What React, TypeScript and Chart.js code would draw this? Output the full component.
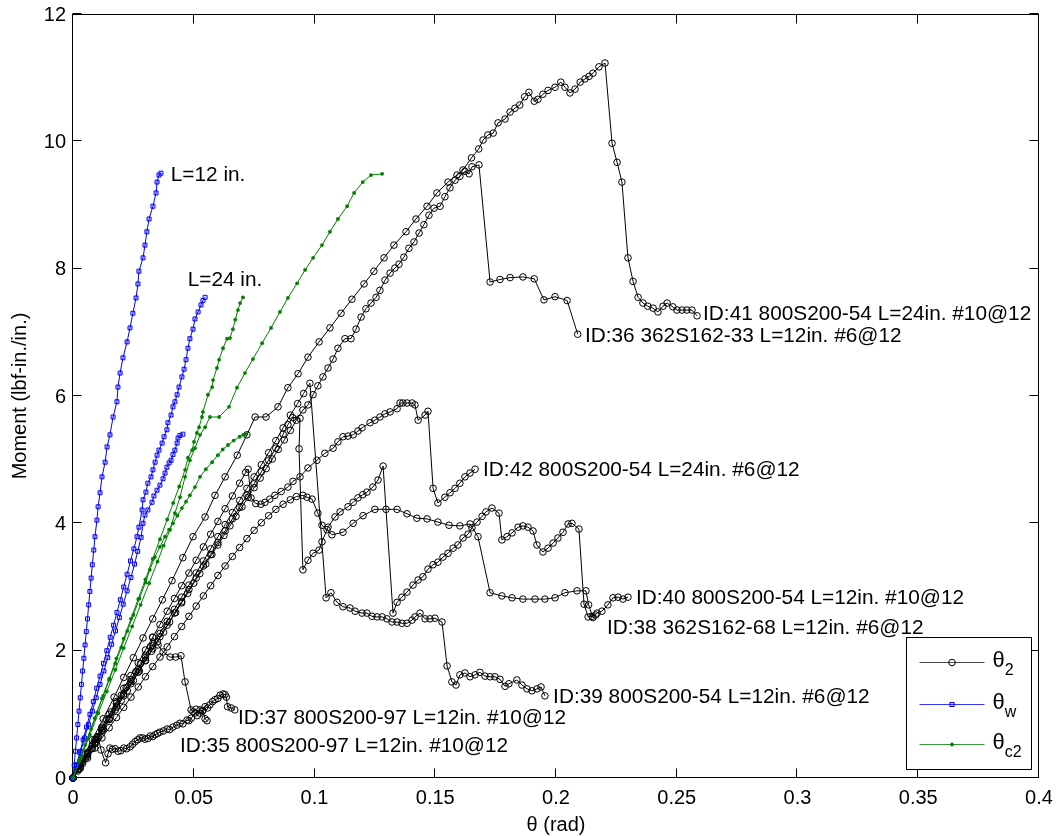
import React, { useEffect, useRef } from 'react';
import { Chart, registerables } from 'chart.js';

Chart.register(...registerables);

type Pt = [number, number];

// ---------- axes ----------
const xTickValues = [0, 0.05, 0.1, 0.15, 0.2, 0.25, 0.3, 0.35, 0.4];
const xTickLabels = ['0', '0.05', '0.1', '0.15', '0.2', '0.25', '0.3', '0.35', '0.4'];
const yTickValues = [0, 2, 4, 6, 8, 10, 12];
const yTickLabels = ['0', '2', '4', '6', '8', '10', '12'];
const xTitle = 'θ (rad)';
const yTitle = 'Moment (lbf-in./in.)';

// ---------- θ2 curves (black) ----------
const id41: Pt[] = [
  [0, 0], [0.004, 0.3], [0.008, 0.6], [0.0125, 0.93], [0.017, 1.27], [0.021, 1.58], [0.025, 1.89], [0.029, 2.2],
  [0.033, 2.5], [0.037, 2.8], [0.041, 3.1], [0.0455, 3.46], [0.0497, 3.79], [0.0547, 4.1], [0.0588, 4.44],
  [0.063, 4.73], [0.068, 5.07], [0.072, 5.39], [0.0754, 5.67], [0.0799, 5.67], [0.0849, 5.83], [0.089, 6.13],
  [0.0932, 6.35], [0.0973, 6.61], [0.1019, 6.85], [0.1064, 7.07], [0.111, 7.3], [0.1155, 7.52], [0.1205, 7.76],
  [0.1246, 7.96], [0.1288, 8.17], [0.1329, 8.37], [0.1379, 8.58], [0.142, 8.78], [0.1466, 8.98], [0.1507, 9.19],
  [0.1553, 9.36], [0.159, 9.47], [0.1615, 9.55], [0.165, 9.74], [0.168, 9.88], [0.1698, 10.02], [0.1718, 10.1],
  [0.174, 10.13], [0.176, 10.29], [0.1789, 10.35], [0.181, 10.46], [0.183, 10.52], [0.185, 10.57], [0.187, 10.7],
  [0.1888, 10.77], [0.191, 10.63], [0.1925, 10.66], [0.1946, 10.74], [0.1967, 10.8], [0.1996, 10.85], [0.202, 10.93],
  [0.2037, 10.85], [0.2058, 10.76], [0.2079, 10.82], [0.21, 10.93], [0.212, 10.98], [0.2137, 11.02], [0.2153, 11.07],
  [0.2178, 11.17], [0.2203, 11.23], [0.2232, 9.97], [0.2253, 9.67], [0.2273, 9.36], [0.2298, 8.17], [0.2319, 7.8],
  [0.234, 7.55], [0.236, 7.46], [0.238, 7.41], [0.2402, 7.38], [0.2422, 7.32], [0.2443, 7.41], [0.246, 7.46],
  [0.2484, 7.4], [0.2501, 7.35], [0.2522, 7.35], [0.2542, 7.35], [0.2563, 7.35], [0.2584, 7.26],
];

const id36: Pt[] = [
  [0, 0], [0.0025, 0.14], [0.005, 0.3], [0.0075, 0.46], [0.01, 0.61], [0.0125, 0.77], [0.015, 0.92], [0.0175, 1.07],
  [0.02, 1.22], [0.0225, 1.37], [0.025, 1.53], [0.0275, 1.68], [0.03, 1.84], [0.0325, 1.99], [0.035, 2.14],
  [0.0375, 2.29], [0.04, 2.45], [0.0425, 2.6], [0.045, 2.75], [0.0475, 2.9], [0.05, 3.06], [0.0525, 3.21],
  [0.055, 3.36], [0.0575, 3.51], [0.06, 3.66], [0.0625, 3.81], [0.065, 3.96], [0.0675, 4.11], [0.07, 4.26],
  [0.0725, 4.41], [0.075, 4.56], [0.0775, 4.71], [0.08, 4.86], [0.0825, 5.01], [0.085, 5.16], [0.0875, 5.31],
  [0.09, 5.46], [0.0925, 5.62], [0.0952, 5.78], [0.0973, 5.86], [0.0994, 6.02], [0.1014, 6.16], [0.1035, 6.3],
  [0.1056, 6.44], [0.1077, 6.58], [0.1097, 6.75], [0.1126, 6.9], [0.1151, 6.9], [0.1172, 7.05], [0.1193, 7.24],
  [0.1213, 7.37], [0.1234, 7.46], [0.1255, 7.55], [0.1271, 7.66], [0.1292, 7.82], [0.1313, 7.93], [0.1333, 8.01],
  [0.135, 8.07], [0.137, 8.18], [0.1391, 8.32], [0.1412, 8.42], [0.1433, 8.56], [0.1453, 8.69], [0.1474, 8.84],
  [0.1495, 8.95], [0.152, 8.98], [0.154, 9.13], [0.1561, 9.27], [0.1582, 9.39], [0.1602, 9.45], [0.1623, 9.53],
  [0.164, 9.49], [0.1652, 9.6], [0.1681, 9.63], [0.1727, 7.79], [0.1768, 7.83], [0.181, 7.86], [0.1863, 7.87],
  [0.191, 7.84], [0.195, 7.51], [0.1996, 7.56], [0.2046, 7.5], [0.209, 6.97],
];

const id42: Pt[] = [
  [0, 0], [0.003, 0.2], [0.006, 0.4], [0.009, 0.6], [0.012, 0.8], [0.015, 1.0], [0.018, 1.2], [0.021, 1.41],
  [0.024, 1.61], [0.027, 1.81], [0.03, 2.01], [0.033, 2.21], [0.036, 2.41], [0.039, 2.62], [0.042, 2.82],
  [0.045, 3.02], [0.048, 3.22], [0.051, 3.42], [0.054, 3.63], [0.057, 3.83], [0.06, 4.03], [0.063, 4.23],
  [0.066, 4.43], [0.069, 4.63], [0.0715, 4.8], [0.0725, 4.85], [0.0737, 4.4], [0.0757, 4.31], [0.0778, 4.3],
  [0.0795, 4.33], [0.0815, 4.38], [0.0836, 4.44], [0.0862, 4.5], [0.089, 4.57], [0.0911, 4.66], [0.094, 4.73],
  [0.0973, 4.87], [0.101, 4.99], [0.1043, 5.1], [0.1077, 5.18], [0.1097, 5.28], [0.1118, 5.36], [0.1139, 5.37],
  [0.116, 5.39], [0.118, 5.45], [0.1197, 5.5], [0.123, 5.58], [0.125, 5.62], [0.1271, 5.67], [0.1292, 5.72],
  [0.1313, 5.75], [0.1342, 5.8], [0.1354, 5.89], [0.1366, 5.89], [0.1383, 5.89], [0.1404, 5.89], [0.1416, 5.86],
  [0.1429, 5.62], [0.1458, 5.7], [0.147, 5.76], [0.1491, 4.55], [0.1511, 4.32], [0.154, 4.41], [0.1561, 4.48],
  [0.1582, 4.55], [0.1602, 4.63], [0.1623, 4.73], [0.1644, 4.79], [0.1665, 4.85],
];

const id40: Pt[] = [
  [0, 0], [0.003, 0.18], [0.006, 0.37], [0.009, 0.55], [0.012, 0.74], [0.015, 0.92], [0.018, 1.11], [0.021, 1.29],
  [0.024, 1.48], [0.027, 1.66], [0.03, 1.85], [0.033, 2.03], [0.036, 2.22], [0.039, 2.4], [0.042, 2.59],
  [0.045, 2.77], [0.048, 2.96], [0.051, 3.14], [0.054, 3.33], [0.057, 3.51], [0.06, 3.7], [0.063, 3.88],
  [0.066, 4.07], [0.069, 4.25], [0.072, 4.44], [0.075, 4.62], [0.078, 4.81], [0.081, 4.99], [0.084, 5.18],
  [0.087, 5.4], [0.089, 5.55], [0.091, 5.66], [0.094, 5.65], [0.0936, 5.17], [0.0952, 3.27], [0.0973, 3.42],
  [0.0994, 3.53], [0.1019, 3.58], [0.1031, 3.71], [0.1056, 3.94], [0.1085, 4.1], [0.1106, 4.18], [0.1139, 4.26],
  [0.116, 4.33], [0.118, 4.4], [0.12, 4.45], [0.1217, 4.49], [0.1242, 4.57], [0.1263, 4.68], [0.1284, 4.9],
  [0.1325, 2.59], [0.1342, 2.76], [0.1362, 2.84], [0.1383, 2.92], [0.1408, 3.03], [0.1429, 3.11], [0.1449, 3.16],
  [0.147, 3.28], [0.1491, 3.35], [0.1511, 3.39], [0.1532, 3.47], [0.1553, 3.53], [0.1574, 3.61], [0.1594, 3.66],
  [0.1615, 3.77], [0.1636, 3.83], [0.1652, 3.93], [0.1673, 4.02], [0.1694, 4.11], [0.171, 4.18], [0.1735, 4.24],
  [0.1764, 4.16], [0.1776, 3.74], [0.1797, 3.79], [0.1818, 3.85], [0.1843, 3.94], [0.1863, 3.96], [0.1884, 3.94],
  [0.1905, 3.88], [0.1921, 3.66], [0.1946, 3.55], [0.1967, 3.61], [0.1988, 3.69], [0.2008, 3.77], [0.2029, 3.86],
  [0.205, 3.99], [0.2066, 4.0], [0.2095, 3.91], [0.2116, 2.73], [0.2133, 2.53], [0.2149, 2.54], [0.217, 2.59],
  [0.219, 2.62], [0.2215, 2.72], [0.2236, 2.83], [0.2257, 2.84], [0.2277, 2.81], [0.2298, 2.84],
];

const id38: Pt[] = [
  [0, 0], [0.003, 0.15], [0.006, 0.31], [0.009, 0.47], [0.012, 0.63], [0.015, 0.79], [0.018, 0.95], [0.021, 1.11],
  [0.024, 1.27], [0.027, 1.43], [0.03, 1.59], [0.033, 1.75], [0.036, 1.9], [0.039, 2.06], [0.042, 2.22],
  [0.045, 2.38], [0.048, 2.54], [0.051, 2.7], [0.054, 2.86], [0.057, 3.02], [0.06, 3.18], [0.063, 3.33],
  [0.066, 3.48], [0.069, 3.62], [0.072, 3.76], [0.075, 3.89], [0.078, 4.01], [0.081, 4.12], [0.084, 4.22],
  [0.087, 4.3], [0.09, 4.37], [0.0925, 4.42], [0.0952, 4.44], [0.0969, 4.41], [0.099, 4.38], [0.1014, 4.16],
  [0.1031, 3.97], [0.1052, 3.9], [0.1072, 3.82], [0.1118, 3.86], [0.116, 4.0], [0.1201, 4.12], [0.125, 4.22],
  [0.1296, 4.22], [0.1342, 4.22], [0.1383, 4.15], [0.1424, 4.08], [0.1466, 4.07], [0.1511, 4.02], [0.1557, 3.97],
  [0.1602, 3.96], [0.1644, 3.99], [0.1677, 3.79], [0.1727, 2.91], [0.1776, 2.86], [0.1818, 2.83], [0.1863, 2.81],
  [0.1913, 2.81], [0.1954, 2.81], [0.1996, 2.83], [0.2037, 2.91], [0.2087, 2.94], [0.2124, 2.94], [0.2135, 2.72],
  [0.2153, 2.52], [0.2165, 2.56],
];

const id39: Pt[] = [
  [0, 0], [0.003, 0.18], [0.006, 0.37], [0.009, 0.56], [0.012, 0.75], [0.015, 0.94], [0.018, 1.13], [0.021, 1.32],
  [0.024, 1.51], [0.027, 1.7], [0.03, 1.89], [0.033, 2.08], [0.036, 2.27], [0.039, 2.46], [0.042, 2.65],
  [0.045, 2.84], [0.048, 3.03], [0.051, 3.22], [0.054, 3.41], [0.057, 3.6], [0.06, 3.79], [0.063, 3.98],
  [0.066, 4.17], [0.069, 4.36], [0.072, 4.55], [0.075, 4.73], [0.078, 4.92], [0.081, 5.11], [0.084, 5.3],
  [0.087, 5.5], [0.09, 5.7], [0.093, 5.88], [0.0955, 6.04], [0.0981, 6.2], [0.1048, 2.83], [0.1068, 2.91],
  [0.1093, 2.76], [0.1118, 2.69], [0.1147, 2.67], [0.1168, 2.62], [0.1197, 2.59], [0.1217, 2.59], [0.1238, 2.54],
  [0.1259, 2.53], [0.128, 2.53], [0.13, 2.5], [0.1321, 2.45], [0.1342, 2.45], [0.1362, 2.43], [0.1383, 2.43],
  [0.1404, 2.48], [0.1416, 2.53], [0.1437, 2.59], [0.1458, 2.5], [0.1478, 2.5], [0.1499, 2.51], [0.1528, 2.45],
  [0.1549, 1.76], [0.1569, 1.51], [0.1586, 1.46], [0.1602, 1.62], [0.1623, 1.65], [0.1644, 1.59], [0.1665, 1.62],
  [0.1685, 1.66], [0.1706, 1.6], [0.1727, 1.59], [0.1747, 1.59], [0.1768, 1.55], [0.1789, 1.44], [0.1805, 1.48],
  [0.1838, 1.54], [0.1859, 1.46], [0.188, 1.4], [0.19, 1.37], [0.1921, 1.4], [0.1938, 1.43], [0.1954, 1.29],
];

const id37: Pt[] = [
  [0, 0], [0.002, 0.13], [0.004, 0.26], [0.006, 0.39], [0.008, 0.52], [0.01, 0.65], [0.012, 0.78], [0.014, 0.91],
  [0.016, 1.04], [0.018, 1.17], [0.02, 1.3], [0.022, 1.42], [0.024, 1.55], [0.026, 1.67], [0.028, 1.8],
  [0.03, 1.93], [0.032, 2.06], [0.033, 2.21], [0.0352, 2.09], [0.0373, 1.98], [0.0402, 1.9], [0.0425, 1.9],
  [0.0447, 1.92], [0.0464, 1.51], [0.0489, 1.07], [0.0497, 1.04], [0.051, 1.08], [0.0525, 1.02], [0.0538, 1.06],
  [0.0547, 0.93], [0.0555, 0.9],
];

const id35: Pt[] = [
  [0, 0], [0.002, 0.11], [0.004, 0.23], [0.006, 0.34], [0.008, 0.46], [0.0095, 0.55], [0.0105, 0.64],
  [0.0116, 0.44], [0.0135, 0.24], [0.0145, 0.38], [0.0153, 0.47], [0.0163, 0.45], [0.0175, 0.46], [0.0187, 0.42],
  [0.0198, 0.43], [0.021, 0.47], [0.0222, 0.46], [0.0236, 0.49], [0.0247, 0.53], [0.0257, 0.57], [0.0268, 0.6],
  [0.0277, 0.63], [0.0288, 0.63], [0.0298, 0.61], [0.031, 0.62], [0.032, 0.66], [0.033, 0.65], [0.034, 0.68],
  [0.035, 0.7], [0.036, 0.72], [0.0375, 0.74], [0.039, 0.77], [0.04, 0.76], [0.0414, 0.8], [0.043, 0.83],
  [0.0443, 0.86], [0.0455, 0.85], [0.0472, 0.91], [0.048, 0.9], [0.049, 0.94], [0.0505, 1.02], [0.0515, 0.98],
  [0.0526, 1.07], [0.0535, 1.05], [0.0547, 1.12], [0.0557, 1.1], [0.0567, 1.15], [0.0578, 1.2], [0.0588, 1.23],
  [0.06, 1.25], [0.0609, 1.3], [0.0621, 1.32], [0.063, 1.31], [0.0635, 1.27], [0.064, 1.12], [0.0655, 1.1],
  [0.067, 1.07],
];

// ---------- θw curves (blue) ----------
const wL12: Pt[] = [
  [0, 0], [0.0005, 0.2], [0.001, 0.42], [0.0015, 0.63], [0.002, 0.84], [0.0025, 1.05], [0.003, 1.26],
  [0.0035, 1.47], [0.004, 1.68], [0.0045, 1.88], [0.005, 2.09], [0.0055, 2.3], [0.006, 2.5], [0.0065, 2.72],
  [0.007, 2.93], [0.0075, 3.14], [0.008, 3.35], [0.0086, 3.58], [0.0091, 3.79], [0.0099, 4.05], [0.0104, 4.26],
  [0.0112, 4.48], [0.012, 4.73], [0.0133, 4.96], [0.0141, 5.2], [0.0153, 5.39], [0.0166, 5.67], [0.0182, 5.91],
  [0.0186, 6.14], [0.0195, 6.36], [0.0207, 6.6], [0.0224, 6.85], [0.0236, 7.07], [0.0248, 7.3], [0.0261, 7.54],
  [0.0269, 7.76], [0.0273, 7.96], [0.029, 8.17], [0.0298, 8.37], [0.0306, 8.58], [0.0315, 8.78], [0.0331, 8.98],
  [0.0344, 9.19], [0.0348, 9.36], [0.0356, 9.47], [0.0364, 9.5],
];

const wL24: Pt[] = [
  [0, 0], [0.0014, 0.2], [0.0028, 0.4], [0.0042, 0.6], [0.0056, 0.8], [0.007, 1.0], [0.0084, 1.2], [0.0098, 1.41],
  [0.0112, 1.6], [0.0126, 1.8], [0.014, 2.0], [0.0154, 2.21], [0.0168, 2.4], [0.0182, 2.6], [0.0196, 2.8],
  [0.021, 3.0], [0.0224, 3.2], [0.0238, 3.41], [0.0252, 3.6], [0.0265, 3.79], [0.0273, 3.94], [0.0286, 4.21],
  [0.029, 4.37], [0.0302, 4.49], [0.031, 4.63], [0.0323, 4.73], [0.0331, 4.84], [0.034, 4.96], [0.0348, 5.07],
  [0.0356, 5.15], [0.0369, 5.26], [0.0377, 5.36], [0.0389, 5.47], [0.0393, 5.58], [0.0406, 5.7], [0.0414, 5.83],
  [0.0422, 5.91], [0.0431, 6.02], [0.0439, 6.14], [0.0451, 6.3], [0.046, 6.42], [0.0468, 6.57], [0.0476, 6.75],
  [0.0484, 6.9], [0.0497, 7.05], [0.0505, 7.21], [0.0518, 7.32], [0.053, 7.43], [0.0538, 7.5], [0.0547, 7.55],
];

const wThird: Pt[] = [
  [0, 0], [0.0016, 0.21], [0.0032, 0.42], [0.0048, 0.63], [0.0064, 0.84], [0.008, 1.05], [0.0096, 1.26],
  [0.0112, 1.47], [0.0128, 1.68], [0.0144, 1.89], [0.016, 2.1], [0.0176, 2.31], [0.0192, 2.52], [0.0208, 2.73],
  [0.0224, 2.94], [0.024, 3.15], [0.0255, 3.36], [0.0268, 3.56], [0.0282, 3.78], [0.029, 4.0], [0.0298, 4.13],
  [0.031, 4.21], [0.0327, 4.33], [0.0335, 4.43], [0.0348, 4.52], [0.036, 4.6], [0.0373, 4.7], [0.0381, 4.79],
  [0.0389, 4.88], [0.0398, 4.95], [0.0406, 4.99], [0.0414, 5.08], [0.0422, 5.15], [0.0431, 5.26], [0.0435, 5.34],
  [0.0443, 5.38], [0.0455, 5.4],
];

// ---------- θc2 curves (green) ----------
const cTop: Pt[] = [
  [0, 0], [0.0035, 0.34], [0.007, 0.68], [0.0105, 1.02], [0.014, 1.36], [0.0175, 1.7], [0.021, 2.04],
  [0.0245, 2.38], [0.028, 2.72], [0.0315, 3.06], [0.035, 3.4], [0.0375, 3.65], [0.0402, 3.9], [0.0422, 4.16],
  [0.0443, 4.41], [0.0464, 4.73], [0.0484, 4.99], [0.0505, 5.18], [0.0526, 5.39], [0.0547, 5.51], [0.0567, 5.67],
  [0.0605, 5.67], [0.0646, 5.83], [0.0679, 6.13], [0.0712, 6.36], [0.0745, 6.58], [0.0783, 6.83], [0.082, 7.07],
  [0.0857, 7.32], [0.089, 7.54], [0.0928, 7.77], [0.0961, 7.98], [0.0994, 8.17], [0.1031, 8.37], [0.1064, 8.58],
  [0.1097, 8.78], [0.1135, 8.98], [0.1164, 9.19], [0.12, 9.36], [0.1234, 9.47], [0.128, 9.49],
];

const cMid: Pt[] = [
  [0, 0], [0.003, 0.31], [0.006, 0.62], [0.009, 0.94], [0.012, 1.25], [0.015, 1.56], [0.018, 1.88],
  [0.021, 2.19], [0.024, 2.5], [0.027, 2.81], [0.03, 3.12], [0.033, 3.44], [0.036, 3.75], [0.039, 4.06],
  [0.0415, 4.32], [0.044, 4.58], [0.0464, 4.84], [0.0476, 5.03], [0.0493, 5.15], [0.0501, 5.28], [0.0513, 5.42],
  [0.0522, 5.51], [0.0534, 5.67], [0.0538, 5.75], [0.0559, 6.02], [0.0576, 6.14], [0.058, 6.25], [0.0596, 6.44],
  [0.0605, 6.57], [0.0621, 6.75], [0.0638, 6.9], [0.065, 6.91], [0.0662, 7.05], [0.0672, 7.2], [0.0683, 7.35],
  [0.0692, 7.46], [0.0704, 7.55],
];

const cLow: Pt[] = [
  [0, 0], [0.0025, 0.26], [0.005, 0.52], [0.0075, 0.77], [0.01, 1.03], [0.0125, 1.29], [0.015, 1.54],
  [0.0175, 1.8], [0.02, 2.05], [0.0225, 2.31], [0.025, 2.56], [0.0275, 2.82], [0.03, 3.07], [0.0318, 3.27],
  [0.0339, 3.47], [0.036, 3.63], [0.0381, 3.79], [0.0398, 3.9], [0.0414, 4.0], [0.0432, 4.12], [0.0451, 4.24],
  [0.0468, 4.34], [0.0484, 4.44], [0.0505, 4.57], [0.0526, 4.73], [0.055, 4.85], [0.0576, 4.96], [0.06, 5.07],
  [0.062, 5.16], [0.0642, 5.23], [0.0665, 5.3], [0.069, 5.36], [0.0705, 5.39], [0.0716, 5.4],
];

// ---------- text annotations (data coordinates of left/middle anchor) ----------
const annText = [
  'L=12 in.', 'L=24 in.',
  'ID:41 800S200-54 L=24in. #10@12', 'ID:36 362S162-33 L=12in. #6@12', 'ID:42 800S200-54 L=24in. #6@12',
  'ID:40 800S200-54 L=12in. #10@12', 'ID:38 362S162-68 L=12in. #6@12', 'ID:39 800S200-54 L=12in. #6@12',
  'ID:37 800S200-97 L=12in. #10@12', 'ID:35 800S200-97 L=12in. #10@12',
];
const annX = [0.0405, 0.0475, 0.2609, 0.212, 0.1698, 0.2331, 0.2211, 0.1988, 0.0683, 0.0443];
const annY = [9.49, 7.84, 7.3, 6.96, 4.85, 2.84, 2.37, 1.29, 0.96, 0.52];

const legendSubs = ['2', 'w', 'c2'];

const FONT = '"Liberation Sans", Arial, Helvetica, sans-serif';
const BLACK = '#000000';
const BLUE = '#0000ff';
const GREEN = '#008000';

function drawMarker(ctx: CanvasRenderingContext2D, kind: number, x: number, y: number) {
  ctx.save();
  ctx.lineWidth = 1;
  if (kind === 0) {
    ctx.strokeStyle = BLACK;
    ctx.beginPath();
    ctx.arc(x, y, 3.3, 0, Math.PI * 2);
    ctx.stroke();
  } else if (kind === 1) {
    ctx.strokeStyle = BLUE;
    ctx.fillStyle = 'rgba(0,0,255,0.12)';
    ctx.fillRect(x - 2, y - 2, 4, 4);
    ctx.strokeRect(x - 2, y - 2, 4, 4);
  } else {
    ctx.fillStyle = GREEN;
    ctx.beginPath();
    ctx.arc(x, y, 1.9, 0, Math.PI * 2);
    ctx.fill();
  }
  ctx.restore();
}

const decor = {
  id: 'decor',
  beforeDatasetsDraw(chart: any) {
    const { ctx, chartArea: a, scales } = chart;
    const xs = scales.x;
    const ys = scales.y;
    ctx.save();
    ctx.strokeStyle = BLACK;
    ctx.lineWidth = 1;
    const L = Math.round(a.left) - 0.5;
    const R = Math.round(a.right) - 0.5;
    const T = Math.round(a.top) + 0.5;
    const B = Math.round(a.bottom) - 0.5;
    ctx.strokeRect(L, T, R - L, B - T);
    ctx.beginPath();
    xTickValues.forEach((v) => {
      const px = Math.round(xs.getPixelForValue(v)) - 0.5;
      ctx.moveTo(px, B);
      ctx.lineTo(px, B - 9);
      ctx.moveTo(px, T);
      ctx.lineTo(px, T + 9);
    });
    yTickValues.forEach((v) => {
      const py = Math.round(ys.getPixelForValue(v)) - 0.5;
      ctx.moveTo(L, py);
      ctx.lineTo(L + 9, py);
      ctx.moveTo(R, py);
      ctx.lineTo(R - 9, py);
    });
    ctx.stroke();

    ctx.fillStyle = BLACK;
    ctx.font = `20px ${FONT}`;
    ctx.textAlign = 'center';
    ctx.textBaseline = 'middle';
    xTickValues.forEach((v, i) => {
      ctx.fillText(xTickLabels[i], xs.getPixelForValue(v), a.bottom + 20);
    });
    ctx.textAlign = 'right';
    yTickValues.forEach((v, i) => {
      ctx.fillText(yTickLabels[i], a.left - 7, ys.getPixelForValue(v) + 1);
    });
    ctx.textAlign = 'center';
    ctx.fillText(xTitle, (a.left + a.right) / 2, a.bottom + 47);
    ctx.save();
    ctx.translate(20, (a.top + a.bottom) / 2);
    ctx.rotate(-Math.PI / 2);
    ctx.fillText(yTitle, 0, 0);
    ctx.restore();
    ctx.restore();
  },
  afterDatasetsDraw(chart: any) {
    const { ctx, chartArea: a, scales } = chart;
    const xs = scales.x;
    const ys = scales.y;
    ctx.save();
    ctx.fillStyle = BLACK;
    ctx.font = `20.8px ${FONT}`;
    ctx.textAlign = 'left';
    ctx.textBaseline = 'middle';
    annText.forEach((t, i) => {
      ctx.fillText(t, xs.getPixelForValue(annX[i]), ys.getPixelForValue(annY[i]) + 1);
    });

    // legend box
    const bw = 125;
    const bh = 132;
    const bx = Math.round(a.right) - 8 - bw + 0.5;
    const by = Math.round(a.bottom) - 9 - bh + 0.5;
    ctx.fillStyle = '#ffffff';
    ctx.fillRect(bx, by, bw, bh);
    ctx.strokeStyle = BLACK;
    ctx.lineWidth = 1;
    ctx.strokeRect(bx, by, bw, bh);
    const colors = [BLACK, BLUE, GREEN];
    const rowY = [24, 66, 106];
    for (let i = 0; i < 3; i++) {
      const ry = Math.round(by + rowY[i]) + 0.5;
      ctx.strokeStyle = colors[i];
      ctx.globalAlpha = i === 0 ? 0.7 : 0.8;
      ctx.beginPath();
      ctx.moveTo(bx + 13, ry);
      ctx.lineTo(bx + 78, ry);
      ctx.stroke();
      ctx.globalAlpha = 1;
      drawMarker(ctx, i, bx + 45.5, ry);
      ctx.fillStyle = BLACK;
      ctx.font = `22px ${FONT}`;
      ctx.textAlign = 'left';
      ctx.textBaseline = 'middle';
      ctx.fillText('θ', bx + 86, ry - 2);
      const w = ctx.measureText('θ').width;
      ctx.font = `16px ${FONT}`;
      ctx.fillText(legendSubs[i], bx + 86 + w, ry + 8);
    }
    ctx.restore();
  },
};

export default function App() {
  const ref = useRef<HTMLCanvasElement>(null);
  useEffect(() => {
    const canvas = ref.current;
    if (!canvas) return;
    const toData = (pts: Pt[]) => pts.map(([x, y]) => ({ x, y }));
    const black = (pts: Pt[]) => ({
      data: toData(pts),
      showLine: true,
      borderColor: BLACK,
      borderWidth: 1,
      pointStyle: 'circle',
      pointRadius: 3.3,
      pointBorderColor: BLACK,
      pointBorderWidth: 1,
      pointBackgroundColor: 'rgba(0,0,0,0)',
      order: 3,
      clip: false,
    });
    const blue = (pts: Pt[]) => ({
      data: toData(pts),
      showLine: true,
      borderColor: BLUE,
      borderWidth: 1,
      pointStyle: 'rect',
      pointRadius: 2.8,
      pointBorderColor: BLUE,
      pointBorderWidth: 1,
      pointBackgroundColor: 'rgba(0,0,255,0.12)',
      order: 2,
      clip: false,
    });
    const green = (pts: Pt[]) => ({
      data: toData(pts),
      showLine: true,
      borderColor: GREEN,
      borderWidth: 1,
      pointStyle: 'circle',
      pointRadius: 1.9,
      pointBorderColor: GREEN,
      pointBorderWidth: 0,
      pointBackgroundColor: GREEN,
      order: 1,
      clip: false,
    });
    const datasets: any[] = [
      black(id41), black(id36), black(id42), black(id40), black(id38), black(id39), black(id37), black(id35),
      blue(wL12), blue(wL24), blue(wThird),
      green(cTop), green(cMid), green(cLow),
    ];
    const chart = new Chart(canvas, {
      type: 'scatter',
      data: { datasets },
      options: {
        animation: false,
        responsive: false,
        devicePixelRatio: 1,
        events: [],
        layout: { padding: { left: 73, right: 18, top: 14, bottom: 58 } },
        scales: {
          x: { type: 'linear', min: 0, max: 0.4, display: false },
          y: { type: 'linear', min: 0, max: 12, display: false },
        },
        plugins: { legend: { display: false }, tooltip: { enabled: false } },
        elements: { line: { tension: 0 } },
      } as any,
      plugins: [decor as any],
    });
    return () => chart.destroy();
  }, []);
  return (
    <div style={{ position: 'absolute', left: 0, top: 0, width: 1057, height: 836, background: '#ffffff' }}>
      <canvas ref={ref} width={1057} height={836} style={{ display: 'block', width: 1057, height: 836 }} />
    </div>
  );
}
